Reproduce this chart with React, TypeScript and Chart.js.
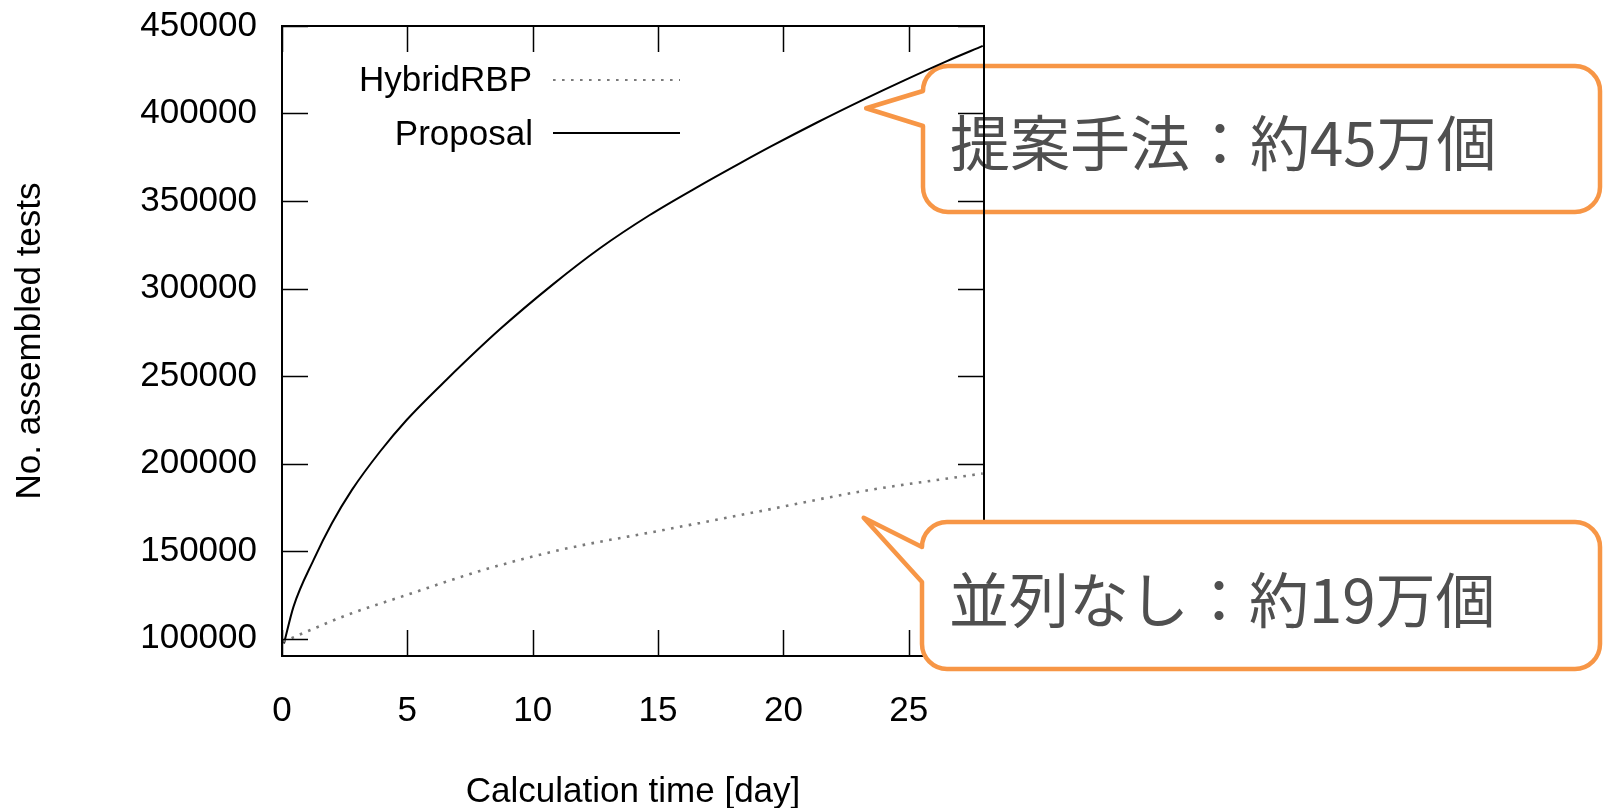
import React, { useEffect, useRef } from 'react';
import { Chart, registerables } from 'chart.js';

Chart.register(...registerables);

// Assembled-test counts over calculation time (days)
const PROPOSAL_DAYS = [0.08, 0.46, 1.26, 1.99, 2.79, 3.92, 4.98, 6.57, 8.7, 10.82, 12.68, 14.67, 16.67, 18.26, 19.52, 21.36, 23.17, 24.8, 26.5, 27.95];
const PROPOSAL_TESTS = [97200, 118200, 144900, 165800, 184900, 207000, 225000, 248000, 276800, 302500, 323000, 342000, 358800, 371500, 381300, 395000, 407800, 418800, 429800, 438600];

const HYBRID_DAYS = [0.05, 1.0, 2.59, 5.0, 7.9, 11.09, 15.07, 19.06, 23.04, 27.95];
const HYBRID_TESTS = [98200, 104000, 113400, 125000, 138600, 150600, 161600, 172700, 183900, 194300];

const SERIES_LABELS = ['HybridRBP', 'Proposal'];

const X_TICKS = [0, 5, 10, 15, 20, 25];
const Y_TICKS = [100000, 150000, 200000, 250000, 300000, 350000, 400000, 450000];

const X_TITLE = 'Calculation time [day]';
const Y_TITLE = 'No. assembled tests';

const CALLOUT_TEXTS = ['提案手法：約45万個', '並列なし：約19万個'];
// where each speech-bubble pointer touches, in data units [day, tests]
const CALLOUT_TIPS = [
  [23.3, 403000],
  [23.2, 169000],
];

const LATIN_FONT = "'Liberation Sans', Arial, Helvetica, sans-serif";
const CJK_FONT = "'Noto Sans CJK JP', 'Noto Sans CJK SC', sans-serif";
const ORANGE = '#f79646';
const TEXT_SIZE = 35;

const toPoints = (xs: number[], ys: number[]) => xs.map((x, i) => ({ x, y: ys[i] }));

type Bubble = {
  tip: number[];
  text: string;
  left: number;
  top: number;
  right: number;
  bottom: number;
  baseTop: number;
  baseBottom: number;
  textY: number;
};

const BUBBLES: Bubble[] = [
  { tip: CALLOUT_TIPS[0], text: CALLOUT_TEXTS[0], left: 923, top: 66, right: 1600, bottom: 212, baseTop: 91, baseBottom: 126, textY: 143 },
  { tip: CALLOUT_TIPS[1], text: CALLOUT_TEXTS[1], left: 922, top: 522, right: 1600, bottom: 669, baseTop: 547, baseBottom: 582, textY: 600 },
];

function drawBubble(chart: any, b: Bubble) {
  const { ctx, scales } = chart;
  const tx = scales.x.getPixelForValue(b.tip[0]);
  const ty = scales.y.getPixelForValue(b.tip[1]);
  const r = 25;
  ctx.save();
  ctx.beginPath();
  ctx.moveTo(b.left, b.baseTop);
  ctx.lineTo(tx, ty);
  ctx.lineTo(b.left, b.baseBottom);
  ctx.arcTo(b.left, b.bottom, b.left + r, b.bottom, r);
  ctx.arcTo(b.right, b.bottom, b.right, b.bottom - r, r);
  ctx.arcTo(b.right, b.top, b.right - r, b.top, r);
  ctx.arcTo(b.left, b.top, b.left, b.top + r, r);
  ctx.closePath();
  ctx.fillStyle = '#ffffff';
  ctx.fill();
  ctx.lineWidth = 4.5;
  ctx.lineJoin = 'round';
  ctx.strokeStyle = ORANGE;
  ctx.stroke();
  ctx.fillStyle = '#4f4f4f';
  ctx.font = `60px ${CJK_FONT}`;
  ctx.textAlign = 'left';
  ctx.textBaseline = 'middle';
  ctx.fillText(b.text, b.left + 27, b.textY);
  ctx.restore();
}

// bubble drawn beneath the axes frame
const bubbleUnder = {
  id: 'bubbleUnder',
  beforeDraw(chart: any) {
    drawBubble(chart, BUBBLES[0]);
  },
};

// bubble drawn above everything else
const bubbleOver = {
  id: 'bubbleOver',
  afterDraw(chart: any) {
    drawBubble(chart, BUBBLES[1]);
  },
};

// gnuplot-style inward tick marks on all four sides
const innerTicks = {
  id: 'innerTicks',
  afterDatasetsDraw(chart: any) {
    const { ctx, chartArea, scales } = chart;
    const len = 26;
    ctx.save();
    ctx.strokeStyle = '#000';
    ctx.lineWidth = 1.5;
    ctx.beginPath();
    for (const t of scales.x.ticks) {
      const px = Math.round(scales.x.getPixelForValue(t.value)) + 0.5;
      ctx.moveTo(px, chartArea.bottom);
      ctx.lineTo(px, chartArea.bottom - len);
      ctx.moveTo(px, chartArea.top);
      ctx.lineTo(px, chartArea.top + len);
    }
    for (const t of scales.y.ticks) {
      const py = Math.round(scales.y.getPixelForValue(t.value)) + 0.5;
      ctx.moveTo(chartArea.left, py);
      ctx.lineTo(chartArea.left + len, py);
      ctx.moveTo(chartArea.right, py);
      ctx.lineTo(chartArea.right - len, py);
    }
    ctx.stroke();
    ctx.restore();
  },
};

// key in the upper-left of the plot: label right-aligned, line sample after it
const keyPlugin = {
  id: 'keyBox',
  afterDatasetsDraw(chart: any) {
    const { ctx } = chart;
    const rows = [
      { index: 0, textRight: 532, baseline: 91, lineY: 80 },
      { index: 1, textRight: 533, baseline: 145, lineY: 133 },
    ];
    ctx.save();
    ctx.font = `${TEXT_SIZE}px ${LATIN_FONT}`;
    ctx.textAlign = 'right';
    ctx.textBaseline = 'alphabetic';
    for (const row of rows) {
      const ds = chart.data.datasets[row.index];
      ctx.fillStyle = '#000';
      ctx.fillText(ds.label, row.textRight, row.baseline);
      ctx.beginPath();
      ctx.strokeStyle = ds.borderColor;
      ctx.lineWidth = row.index === 0 ? 1.8 : 1.8;
      ctx.setLineDash(ds.borderDash || []);
      ctx.moveTo(553, row.lineY);
      ctx.lineTo(680, row.lineY);
      ctx.stroke();
    }
    ctx.restore();
  },
};

const noEdgePadding = (s: any) => {
  s.paddingTop = 0;
  s.paddingBottom = 0;
  s.paddingLeft = 0;
  s.paddingRight = 0;
};

export default function App() {
  const canvasRef = useRef<HTMLCanvasElement | null>(null);

  useEffect(() => {
    const canvas = canvasRef.current;
    if (!canvas) return;
    const chart = new Chart(canvas, {
      type: 'line',
      data: {
        datasets: [
          {
            label: SERIES_LABELS[0],
            data: toPoints(HYBRID_DAYS, HYBRID_TESTS),
            borderColor: '#7a7a7a',
            borderWidth: 2.6,
            borderDash: [2.6, 6.4],
            pointRadius: 0,
            fill: false,
            cubicInterpolationMode: 'monotone',
          },
          {
            label: SERIES_LABELS[1],
            data: toPoints(PROPOSAL_DAYS, PROPOSAL_TESTS),
            borderColor: '#000000',
            borderWidth: 2,
            pointRadius: 0,
            fill: false,
            cubicInterpolationMode: 'monotone',
          },
        ],
      },
      options: {
        responsive: false,
        maintainAspectRatio: false,
        devicePixelRatio: 1,
        animation: false,
        events: [],
        layout: { padding: 0 },
        font: { family: LATIN_FONT },
        plugins: {
          legend: { display: false },
          tooltip: { enabled: false },
        },
        scales: {
          x: {
            type: 'linear',
            position: 'bottom',
            min: 0,
            max: 28,
            afterBuildTicks: (s: any) => {
              s.ticks = X_TICKS.map((value) => ({ value }));
            },
            afterFit: (s: any) => {
              s.height = 152;
              noEdgePadding(s);
            },
            grid: { display: false, drawTicks: false },
            border: { display: true, color: '#000', width: 2 },
            ticks: {
              padding: 34,
              color: '#000',
              maxRotation: 0,
              autoSkip: false,
              font: { family: LATIN_FONT, size: TEXT_SIZE },
              callback: (v: any) => String(v),
            },
            title: {
              display: true,
              text: X_TITLE,
              color: '#000',
              font: { family: LATIN_FONT, size: TEXT_SIZE, lineHeight: 1 },
              padding: { top: 0, bottom: -2 },
            },
          },
          x2: {
            type: 'linear',
            position: 'top',
            display: true,
            min: 0,
            max: 28,
            afterBuildTicks: (s: any) => {
              s.ticks = X_TICKS.map((value) => ({ value }));
            },
            afterFit: (s: any) => {
              s.height = 26;
              noEdgePadding(s);
            },
            grid: { display: false, drawTicks: false },
            border: { display: true, color: '#000', width: 2 },
            ticks: { display: false },
          },
          y: {
            type: 'linear',
            position: 'left',
            min: 90000,
            max: 450000,
            afterBuildTicks: (s: any) => {
              s.ticks = Y_TICKS.map((value) => ({ value }));
            },
            afterFit: (s: any) => {
              s.width = 282;
              noEdgePadding(s);
            },
            grid: { display: false, drawTicks: false },
            border: { display: true, color: '#000', width: 2 },
            ticks: {
              padding: 25,
              color: '#000',
              autoSkip: false,
              font: { family: LATIN_FONT, size: TEXT_SIZE },
              callback: (v: any) => String(v),
            },
            title: {
              display: true,
              text: Y_TITLE,
              color: '#000',
              font: { family: LATIN_FONT, size: TEXT_SIZE, lineHeight: 1 },
              padding: { top: 13, bottom: 0 },
            },
          },
          y2: {
            type: 'linear',
            position: 'right',
            display: true,
            min: 90000,
            max: 450000,
            afterBuildTicks: (s: any) => {
              s.ticks = Y_TICKS.map((value) => ({ value }));
            },
            afterFit: (s: any) => {
              s.width = 619;
              noEdgePadding(s);
            },
            grid: { display: false, drawTicks: false },
            border: { display: true, color: '#000', width: 2 },
            ticks: { display: false },
          },
        },
      } as any,
      plugins: [bubbleUnder, innerTicks, keyPlugin, bubbleOver],
    });
    return () => chart.destroy();
  }, []);

  return (
    <div style={{ position: 'absolute', left: 0, top: 0, width: 1603, height: 808, background: '#fff' }}>
      <canvas ref={canvasRef} width={1603} height={808} style={{ display: 'block', width: 1603, height: 808 }} />
    </div>
  );
}
